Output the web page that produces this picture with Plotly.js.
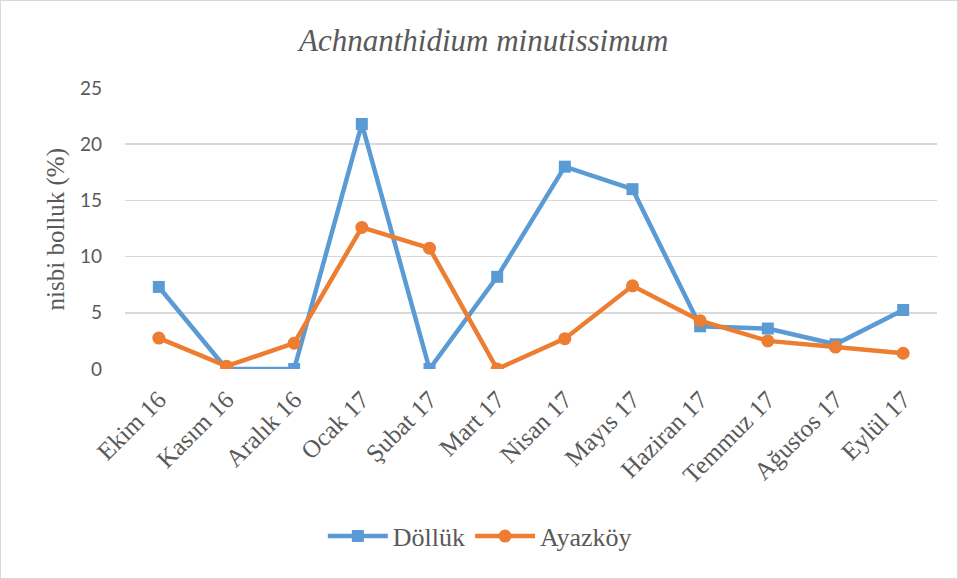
<!DOCTYPE html>
<html>
<head>
<meta charset="utf-8">
<script src="https://cdn.plot.ly/plotly-3.0.1.min.js"></script>
<style>
html,body{margin:0;padding:0;background:#fff;}
#wrap{width:958px;height:579px;box-sizing:border-box;border:1px solid #d9d9d9;}
#chart{width:956px;height:577px;}
</style>
</head>
<body>
<div id="wrap"><div id="chart"></div></div>
<script>
const months = ["Ekim 16","Kasım 16","Aralık 16","Ocak 17","Şubat 17","Mart 17","Nisan 17","Mayıs 17","Haziran 17","Temmuz 17","Ağustos 17","Eylül 17"];
const dolluk = [7.3, 0, 0, 21.8, 0, 8.2, 18.0, 16.0, 3.8, 3.6, 2.2, 5.25];
const ayazkoy = [2.75, 0.25, 2.3, 12.6, 10.75, 0, 2.7, 7.4, 4.3, 2.5, 1.95, 1.4];
const yTicks = [0, 5, 10, 15, 20, 25];
const yTitle = "nisbi bolluk (%)";

const serif = "Liberation Serif";
const sans = "Lato";
const traces = [
  {x: months, y: dolluk, name: "Döllük", type: "scatter", mode: "lines+markers",
   line: {color: "#5b9bd5", width: 4.5}, marker: {symbol: "square", size: 12, color: "#5b9bd5"}},
  {x: months, y: ayazkoy, name: "Ayazköy", type: "scatter", mode: "lines+markers",
   line: {color: "#ed7d31", width: 4.5}, marker: {symbol: "circle", size: 13, color: "#ed7d31"}}
];
const layout = {
  width: 956, height: 577,
  font: {family: serif, color: "#595959"},
  margin: {l: 124, r: 20, t: 87, b: 209},
  paper_bgcolor: "#fff", plot_bgcolor: "#fff",
  title: {text: "<i>Achnanthidium minutissimum</i>", xref: "container", x: 0.505, xanchor: "center",
          yref: "container", y: 0.932, yanchor: "middle",
          font: {family: serif, size: 31, color: "#595959"}},
  xaxis: {type: "category", range: [-0.5, months.length - 0.5], tickangle: -45, showgrid: false,
          zeroline: false, showline: false,
          ticks: "", ticklabelstandoff: 10, tickfont: {family: serif, size: 25, color: "#595959"}, automargin: false},
  yaxis: {range: [0, 25], tickvals: yTicks, showgrid: true, gridcolor: "#d9d9d9", gridwidth: 1.5,
          zeroline: false, showline: false, ticks: "", ticklabelstandoff: 22,
          tickfont: {family: sans, size: 19, color: "#595959"}, automargin: false},
  annotations: [{text: yTitle, textangle: -90, xref: "paper", yref: "paper",
                 x: -0.085, xanchor: "center", y: 0.5, yanchor: "middle", showarrow: false,
                 font: {family: serif, size: 25, color: "#595959"}}],
  legend: {orientation: "h", x: 0.437, xanchor: "center", y: -0.595, yanchor: "middle",
           itemwidth: 60, font: {family: serif, size: 26, color: "#595959"}},
  showlegend: true
};
Plotly.newPlot("chart", traces, layout, {displayModeBar: false, staticPlot: true});
</script>
</body>
</html>
